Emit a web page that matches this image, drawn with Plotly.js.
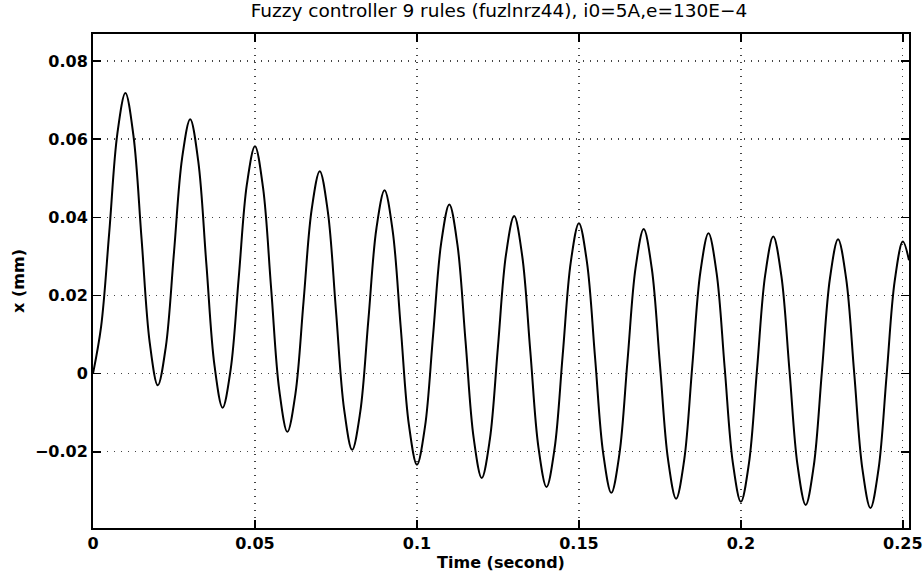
<!DOCTYPE html>
<html>
<head>
<meta charset="utf-8">
<script src="https://cdn.plot.ly/plotly-3.0.1.min.js"></script>
<style>html,body{margin:0;padding:0;background:#fff;}#chart{width:924px;height:574px;}</style>
</head>
<body>
<div id="chart"></div>
<script>
// Time samples (s) and displacement values (mm)
const timeSec = [
  0, 0.0025, 0.005, 0.0075, 0.01, 0.0125, 0.015, 0.0175, 0.02, 0.0225,
  0.025, 0.0275, 0.03, 0.0325, 0.035, 0.0375, 0.04, 0.0425, 0.045, 0.0475,
  0.05, 0.0525, 0.055, 0.0575, 0.06, 0.0625, 0.065, 0.0675, 0.07, 0.0725,
  0.075, 0.0775, 0.08, 0.0825, 0.085, 0.0875, 0.09, 0.0925, 0.095, 0.0975,
  0.10, 0.1025, 0.105, 0.1075, 0.11, 0.1125, 0.115, 0.1175, 0.12, 0.1225,
  0.125, 0.1275, 0.13, 0.1325, 0.135, 0.1375, 0.14, 0.1425, 0.145, 0.1475,
  0.15, 0.1525, 0.155, 0.1575, 0.16, 0.1625, 0.165, 0.1675, 0.17, 0.1725,
  0.175, 0.1775, 0.18, 0.1825, 0.185, 0.1875, 0.19, 0.1925, 0.195, 0.1975,
  0.20, 0.2025, 0.205, 0.2075, 0.21, 0.2125, 0.215, 0.2175, 0.22, 0.2225,
  0.225, 0.2275, 0.23, 0.2325, 0.235, 0.2375, 0.24, 0.2425, 0.245, 0.2475,
  0.25, 0.2519];
const xMm = [
  0, 0.012, 0.036, 0.0613, 0.0718, 0.0608, 0.0344, 0.008, -0.003, 0.007,
  0.031, 0.0551, 0.0651, 0.0543, 0.028, 0.0021, -0.0087, 0.0011, 0.0247, 0.0484,
  0.0582, 0.0475, 0.0217, -0.0042, -0.0149, -0.0051, 0.0185, 0.042, 0.0518, 0.0414,
  0.0162, -0.009, -0.0195, -0.0098, 0.0137, 0.0372, 0.0469, 0.0366, 0.0118, -0.013,
  -0.0233, -0.0135, 0.010, 0.0335, 0.0433, 0.033, 0.0083, -0.0164, -0.0267, -0.0169,
  0.0068, 0.0305, 0.0403, 0.0301, 0.0057, -0.0188, -0.029, -0.0191, 0.0048, 0.0286,
  0.0385, 0.0284, 0.004, -0.0204, -0.0305, -0.0206, 0.0033, 0.0271, 0.037, 0.0269,
  0.0025, -0.0219, -0.032, -0.0221, 0.002, 0.026, 0.0359, 0.0258, 0.0015, -0.0227,
  -0.0328, -0.0229, 0.0012, 0.0252, 0.0351, 0.025, 0.0008, -0.0235, -0.0336, -0.0236,
  0.0004, 0.0244, 0.0344, 0.0243, 0.0, -0.0243, -0.0344, -0.0244, -0.0003, 0.0238,
  0.0338, 0.029];
const xTicks = [0, 0.05, 0.1, 0.15, 0.2, 0.25];
const xTickLabels = ['0', '0.05', '0.1', '0.15', '0.2', '0.25'];
const yTicks = [-0.02, 0, 0.02, 0.04, 0.06, 0.08];
const yTickLabels = ['\u22120.02', '0', '0.02', '0.04', '0.06', '0.08'];

const fontFam = 'DejaVu Sans, Verdana, sans-serif';
const trace = {
  x: timeSec, y: xMm, type: 'scatter', mode: 'lines',
  line: {color: '#000', width: 2, shape: 'spline', smoothing: 1},
  hoverinfo: 'skip'
};
const axisCommon = {
  showline: true, mirror: 'ticks', linecolor: '#000', linewidth: 2,
  ticks: 'inside', ticklen: 8, tickcolor: '#000', tickwidth: 1.5,
  showgrid: true, gridcolor: '#444', griddash: '1px,6px', gridwidth: 1.3,
  zeroline: false,
  tickfont: {family: fontFam, size: 16, color: '#000', weight: 'bold'}
};
const layout = {
  width: 924, height: 574,
  margin: {l: 93, r: 15, t: 34, b: 46},
  paper_bgcolor: '#fff', plot_bgcolor: '#fff',
  showlegend: false,
  title: {text: 'Fuzzy controller 9 rules (fuzlnrz44), i0=5A,e=130E\u22124',
    font: {family: fontFam, size: 18.5, color: '#000'}, x: 0.54, xanchor: 'center', y: 0.993, yanchor: 'top'},
  xaxis: Object.assign({}, axisCommon, {
    range: [0, 0.2519], tickvals: xTicks, ticktext: xTickLabels,
    title: {text: 'Time (second)', font: {family: fontFam, size: 16, color: '#000', weight: 'bold'}, standoff: 0}
  }),
  yaxis: Object.assign({}, axisCommon, {
    range: [-0.0395, 0.0869], tickvals: yTicks, ticktext: yTickLabels,
    title: {text: 'x (mm)', font: {family: fontFam, size: 16, color: '#000', weight: 'bold'}, standoff: 6}
  })
};
Plotly.newPlot('chart', [trace], layout, {displayModeBar: false, staticPlot: true});
</script>
</body>
</html>
